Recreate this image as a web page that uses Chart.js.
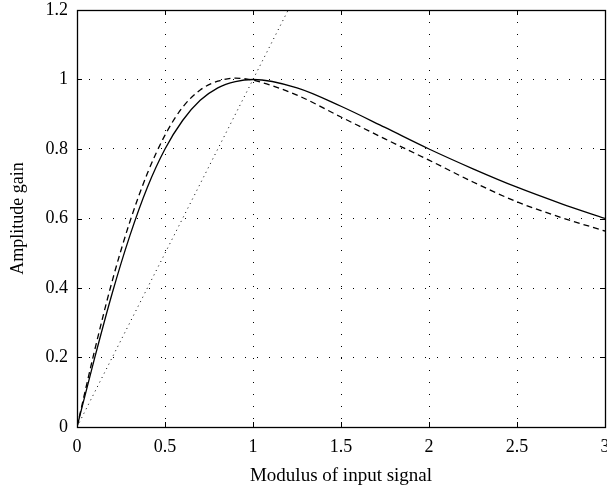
<!DOCTYPE html>
<html>
<head>
<meta charset="utf-8">
<script src="https://cdn.jsdelivr.net/npm/chart.js@4/dist/chart.umd.min.js"></script>
<style>
    html, body { margin: 0; padding: 0; background: #fff; }
    #wrap { width: 607px; height: 490px; }
</style>
</head>
<body>
<div id="wrap"><canvas id="gainChart" width="607" height="490"></canvas></div>
<script>
// values
const inputLevels = [0, 0.1, 0.2, 0.3, 0.4, 0.5, 0.6, 0.7, 0.8, 0.9, 1.0, 1.25, 1.5, 1.75, 2.0, 2.25, 2.5, 2.75, 3.0];
const solidGain  = [0, 0.198, 0.385, 0.550, 0.690, 0.800, 0.882, 0.940, 0.976, 0.994, 1.000, 0.976, 0.923, 0.862, 0.800, 0.743, 0.690, 0.643, 0.600];
const dashedGain = [0, 0.220, 0.420, 0.590, 0.730, 0.840, 0.920, 0.970, 0.995, 1.004, 0.998, 0.955, 0.892, 0.829, 0.768, 0.705, 0.648, 0.603, 0.564];
const linearX = [0, 1.2];
const linearY = [0, 1.2];
const xTicks = [0, 0.5, 1, 1.5, 2, 2.5, 3];
const yTicks = [0, 0.2, 0.4, 0.6, 0.8, 1, 1.2];

const FONT = "'Liberation Serif', 'Times New Roman', serif";

function toPoints(xs, ys) {
    return xs.map((x, i) => ({ x: x, y: ys[i] }));
}

// box around the plot with inward ticks, like the original figure
const boxTicks = {
    id: 'boxTicks',
    afterDatasetsDraw(chart) {
        const { ctx, chartArea: a, scales } = chart;
        const len = 5;
        ctx.save();
        ctx.strokeStyle = '#000';
        ctx.lineWidth = 1;
        ctx.setLineDash([]);
        ctx.beginPath();
        xTicks.forEach(v => {
            const px = Math.round(scales.x.getPixelForValue(v)) + 0.5;
            ctx.moveTo(px, a.bottom); ctx.lineTo(px, a.bottom - len);
            ctx.moveTo(px, a.top); ctx.lineTo(px, a.top + len);
        });
        yTicks.forEach(v => {
            const py = Math.round(scales.y.getPixelForValue(v)) + 0.5;
            ctx.moveTo(a.left, py); ctx.lineTo(a.left + len, py);
            ctx.moveTo(a.right, py); ctx.lineTo(a.right - len, py);
        });
        ctx.stroke();
        ctx.lineWidth = 1.3;
        ctx.strokeRect(Math.round(a.left) + 0.5, Math.round(a.top) + 0.5,
            Math.round(a.right - a.left), Math.round(a.bottom - a.top));
        ctx.restore();
    }
};

new Chart(document.getElementById('gainChart').getContext('2d'), {
    type: 'scatter',
    data: {
        datasets: [
            {
                data: toPoints(inputLevels, solidGain),
                showLine: true,
                borderColor: '#000',
                borderWidth: 1.3,
                pointRadius: 0,
                cubicInterpolationMode: 'monotone'
            },
            {
                data: toPoints(inputLevels, dashedGain),
                showLine: true,
                borderColor: '#000',
                borderWidth: 1.3,
                borderDash: [6, 4],
                pointRadius: 0,
                cubicInterpolationMode: 'monotone'
            },
            {
                data: toPoints(linearX, linearY),
                showLine: true,
                borderColor: '#000',
                borderWidth: 1,
                borderDash: [1, 4],
                pointRadius: 0
            }
        ]
    },
    options: {
        responsive: false,
        animation: false,
        layout: { padding: { top: 10, right: 2, left: 0, bottom: 0 } },
        plugins: {
            legend: { display: false },
            tooltip: { enabled: false }
        },
        scales: {
            x: {
                type: 'linear',
                min: 0,
                max: 3,
                afterBuildTicks: s => { s.ticks = xTicks.map(v => ({ value: v })); },
                afterFit: s => { s.height = 63; s.paddingLeft = 0; s.paddingRight = 0; },
                grid: { color: '#000', lineWidth: 1, drawTicks: false },
                border: { display: false, dash: [1, 11] },
                ticks: {
                    color: '#000', padding: 9, maxRotation: 0,
                    callback: v => String(v),
                    font: { family: FONT, size: 18 }
                },
                title: {
                    display: true,
                    text: 'Modulus of input signal',
                    color: '#000',
                    padding: { top: 0, bottom: 3 },
                    font: { family: FONT, size: 19 }
                }
            },
            y: {
                type: 'linear',
                min: 0,
                max: 1.2,
                afterBuildTicks: s => { s.ticks = yTicks.map(v => ({ value: v })); },
                afterFit: s => { s.width = 77; s.paddingTop = 0; s.paddingBottom = 0; },
                grid: { color: '#000', lineWidth: 1, drawTicks: false },
                border: { display: false, dash: [1, 11] },
                ticks: {
                    color: '#000', padding: 9,
                    callback: v => String(v),
                    font: { family: FONT, size: 18 }
                },
                title: {
                    display: true,
                    text: 'Amplitude gain',
                    color: '#000',
                    padding: { top: 7, bottom: 0 },
                    font: { family: FONT, size: 18 }
                }
            }
        }
    },
    plugins: [boxTicks]
});
</script>
</body>
</html>
